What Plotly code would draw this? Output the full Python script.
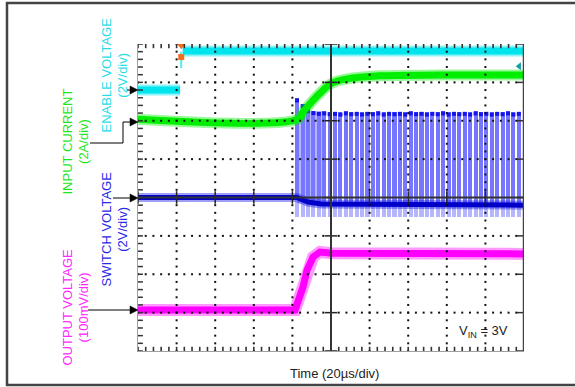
import numpy as np
import plotly.graph_objects as go

W, H = 575, 387
FONT = "Arial, Liberation Sans, sans-serif"

# ---------------- data (time in µs, level in divisions from screen centre) -------------
enable_low_t = [-100, -78.2]
enable_low_v = [2.80, 2.80]
enable_high_t = [-76.8, 100]
enable_high_v = [3.82, 3.82]
enable_spike_t = [-77.6, -77.6]
enable_spike_v = [3.80, 3.37]

current_t = [-100, -17.1, -14.5, -10.9, -5.7, 0.5, 8.3, 25.4, 56.5, 100]
current_v = [2.04, 2.04, 2.23, 2.44, 2.72, 2.98, 3.09, 3.17, 3.19, 3.19]

switch_low_t = [-100, -17.6, -12.0, -5.0, 100]
switch_low_v = [0.0, 0.0, -0.12, -0.17, -0.20]
switch_tail_v = -0.50
burst_t = [-17.6, -4.5]
pulse_t = [-17.6, -14.7, -11.9, -9.1, -6.3, -3.5, -0.7, 2.1, 4.9, 7.7, 10.5, 13.3,
           16.1, 18.9, 21.7, 24.5, 27.3, 30.1, 32.9, 35.7, 38.5, 41.3, 44.1, 46.9,
           49.7, 52.5, 55.3, 58.1, 60.9, 63.7, 66.5, 69.3, 72.1, 74.9, 77.7, 80.5,
           83.3, 86.1, 88.9, 91.7, 94.5, 97.3]
pulse_peak = [2.59, 2.44, 2.31, 2.26, 2.24, 2.25, 2.23, 2.24, 2.22, 2.25, 2.23, 2.24,
              2.22, 2.24, 2.23, 2.25, 2.22, 2.24, 2.23, 2.24, 2.22, 2.25, 2.23, 2.24,
              2.22, 2.24, 2.23, 2.25, 2.22, 2.24, 2.23, 2.24, 2.22, 2.25, 2.23, 2.24,
              2.22, 2.24, 2.23, 2.25, 2.22, 2.24]

output_t = [-100, -18.6, -14.5, -12.4, -9.3, -5.7, 0.5, 100]
output_v = [-2.93, -2.93, -2.33, -1.89, -1.55, -1.42, -1.45, -1.47]

trigger_t = -77.6
enable_level_v = 3.42

# ---------------- layout geometry (pixels) ----------------
PX0, PX1, PY0, PY1 = 138, 524, 44, 351


def xp(x):
    return x / W


def yp(y):
    return 1 - y / H


CYAN = "rgb(0,228,238)"
GREEN = "rgb(0,238,0)"
BLUE = "rgb(0,0,200)"
MAGENTA = "rgb(255,0,255)"

fig = go.Figure()

# ---- switch voltage (blue) ----
low_interp = [float(np.interp(t, switch_low_t, switch_low_v)) for t in pulse_t]
fig.add_trace(go.Bar(x=pulse_t, base=[switch_tail_v] * len(pulse_t),
                     y=[l - switch_tail_v for l in low_interp], width=2.1,
                     marker=dict(color="rgba(110,110,255,0.5)", line=dict(width=0))))
fig.add_trace(go.Bar(x=pulse_t, base=low_interp,
                     y=[p - l for p, l in zip(pulse_peak, low_interp)], width=2.1,
                     marker=dict(color="rgba(80,80,255,0.78)", line=dict(width=0))))
fig.add_trace(go.Scatter(x=[burst_t[0], burst_t[1], burst_t[1], burst_t[0], burst_t[0]],
                         y=[-0.15, -0.15, 2.25, 2.25, -0.15], fill="toself",
                         fillcolor="rgba(120,120,255,0.55)", mode="none"))
fig.add_trace(go.Scatter(x=pulse_t, y=[p - 0.06 for p in pulse_peak], mode="markers",
                         marker=dict(symbol="square", size=4, color="rgb(20,20,235)")))
fig.add_trace(go.Scatter(x=switch_low_t, y=switch_low_v, mode="lines",
                         line=dict(color="rgba(40,40,230,0.45)", width=9)))
fig.add_trace(go.Scatter(x=switch_low_t, y=switch_low_v, mode="lines",
                         line=dict(color=BLUE, width=5)))

# ---- enable voltage (cyan) ----
for tt, vv in ((enable_low_t, enable_low_v), (enable_high_t, enable_high_v)):
    fig.add_trace(go.Scatter(x=tt, y=vv, mode="lines",
                             line=dict(color="rgba(0,228,238,0.45)", width=11)))
    fig.add_trace(go.Scatter(x=tt, y=vv, mode="lines", line=dict(color=CYAN, width=7)))
fig.add_trace(go.Scatter(x=enable_spike_t, y=enable_spike_v, mode="lines",
                         line=dict(color="rgba(0,228,238,0.7)", width=2)))

# ---- input current (green) ----
fig.add_trace(go.Scatter(x=current_t, y=current_v, mode="lines",
                         line=dict(color="rgba(0,238,0,0.4)", width=11, shape="spline")))
fig.add_trace(go.Scatter(x=current_t, y=current_v, mode="lines",
                         line=dict(color=GREEN, width=7, shape="spline")))

# ---- output voltage (magenta) ----
fig.add_trace(go.Scatter(x=output_t, y=output_v, mode="lines",
                         line=dict(color="rgba(255,0,255,0.4)", width=12)))
fig.add_trace(go.Scatter(x=output_t, y=output_v, mode="lines",
                         line=dict(color=MAGENTA, width=7)))

# ---- markers: trigger and enable level ----
fig.add_trace(go.Scatter(x=[trigger_t], y=[3.97], mode="markers",
                         marker=dict(symbol="triangle-down", size=8, color="rgb(240,110,30)")))
fig.add_trace(go.Scatter(x=[trigger_t], y=[3.66], mode="markers",
                         marker=dict(symbol="square", size=6, color="rgb(240,110,30)")))
fig.add_trace(go.Scatter(x=[97.5], y=[enable_level_v], mode="markers",
                         marker=dict(symbol="triangle-left", size=7, color="rgb(20,160,165)")))

# ---- graticule dots and ticks ----
minor_x = np.arange(-100, 100.01, 4)
minor_y = np.arange(-4, 4.01, 0.2)
gx, gy = [], []
for xv in range(-80, 81, 20):
    if xv == 0:
        continue
    gx += [xv] * len(minor_y)
    gy += list(minor_y)
for yv in range(-3, 4):
    if yv == 0:
        continue
    gx += list(minor_x)
    gy += [yv] * len(minor_x)
fig.add_trace(go.Scatter(x=gx, y=gy, mode="markers",
                         marker=dict(symbol="square", size=2, color="#111", line=dict(width=0))))
# edge ticks
fig.add_trace(go.Scatter(x=[-100] * len(minor_y), y=minor_y, mode="markers",
                         marker=dict(symbol="line-ew", size=7, line=dict(width=1.5, color="#333"))))
fig.add_trace(go.Scatter(x=list(minor_x) * 2, y=[4] * len(minor_x) + [-4] * len(minor_x),
                         mode="markers",
                         marker=dict(symbol="line-ns", size=6, line=dict(width=1.6, color="#333"))))
fig.add_trace(go.Scatter(x=[100] * 9, y=list(range(-4, 5)), mode="markers",
                         marker=dict(symbol="line-ew", size=10, line=dict(width=1.5, color="#333"))))
# centre line ticks
fig.add_trace(go.Scatter(x=[0] * 9, y=list(range(-4, 5)), mode="markers",
                         marker=dict(symbol="line-ew", size=9, line=dict(width=1.5, color="#222"))))
fig.add_trace(go.Scatter(x=list(range(-100, 101, 20)), y=[0] * 11, mode="markers",
                         marker=dict(symbol="line-ns", size=9, line=dict(width=1.5, color="#222"))))

shapes = [
    dict(type="line", xref="x", yref="y", x0=0, x1=0, y0=-4, y1=4,
         line=dict(color="#333", width=2), layer="above"),
    dict(type="line", xref="x", yref="y", x0=-100, x1=100, y0=0, y1=0,
         line=dict(color="#333", width=2), layer="above"),
    dict(type="line", xref="x", yref="y", x0=100, x1=100, y0=-4, y1=4,
         line=dict(color="#444", width=2.5), layer="above"),
    # outer frame
    dict(type="rect", xref="paper", yref="paper", x0=xp(7), x1=xp(590), y0=yp(385), y1=yp(3),
         line=dict(color="#444", width=2.5)),
    # input current connector
    dict(type="path", xref="paper", yref="paper",
         path=f"M {xp(90)} {yp(143)} L {xp(123)} {yp(143)} L {xp(123)} {yp(122)}",
         line=dict(color="black", width=1)),
]


def arrow(x_tip, y_tip, x_tail):
    shapes.append(dict(type="line", xref="paper", yref="paper", x0=xp(x_tail), x1=xp(x_tip - 5),
                       y0=yp(y_tip), y1=yp(y_tip), line=dict(color="black", width=1)))
    shapes.append(dict(type="path", xref="paper", yref="paper",
                       path=(f"M {xp(x_tip)} {yp(y_tip)} L {xp(x_tip - 8)} {yp(y_tip - 4)} "
                             f"L {xp(x_tip - 8)} {yp(y_tip + 4)} Z"),
                       fillcolor="black", line=dict(color="black", width=0.5)))


arrow(138, 90, 127)
arrow(138, 122, 123)
arrow(138, 198, 113)
arrow(138, 310, 88)

annotations = []


def label(text, x, y, color):
    annotations.append(dict(text=text, x=xp(x), y=yp(y), xref="paper", yref="paper",
                            showarrow=False, textangle=-90, xanchor="center", yanchor="middle",
                            font=dict(family=FONT, size=13, color=color)))


label("ENABLE VOLTAGE<br>(2V/div)", 114.5, 75, "rgb(40,220,230)")
label("INPUT CURRENT<br>(2A/div)", 75.5, 142, "rgb(30,230,30)")
label("SWITCH VOLTAGE<br>(2V/div)", 114.5, 229, "rgb(40,40,230)")
label("OUTPUT VOLTAGE<br>(100mV/div)", 75.5, 307, "rgb(255,40,255)")

annotations.append(dict(text="Time (20µs/div)", x=xp(334), y=yp(373), xref="paper",
                        yref="paper", showarrow=False, xanchor="center", yanchor="middle",
                        font=dict(family=FONT, size=13, color="#222")))
annotations.append(dict(text="V<sub>IN</sub> = 3V", x=xp(483), y=yp(331), xref="paper",
                        yref="paper", showarrow=False, xanchor="center", yanchor="middle",
                        font=dict(family=FONT, size=13, color="#222")))

fig.update_layout(
    width=W, height=H, margin=dict(l=0, r=0, t=0, b=0),
    paper_bgcolor="white", plot_bgcolor="white", showlegend=False,
    barmode="overlay", bargap=0,
    xaxis=dict(domain=[xp(PX0), xp(PX1)], range=[-100, 100], showgrid=False, zeroline=False,
               showticklabels=False, ticks="", showline=True, linecolor="#a0a0a0", linewidth=1,
               fixedrange=True),
    yaxis=dict(domain=[yp(PY1), yp(PY0)], range=[-4, 4], showgrid=False, zeroline=False,
               showticklabels=False, ticks="", showline=True, linecolor="#a0a0a0", linewidth=1,
               fixedrange=True),
    shapes=shapes, annotations=annotations,
)

fig.write_html("out.html")
